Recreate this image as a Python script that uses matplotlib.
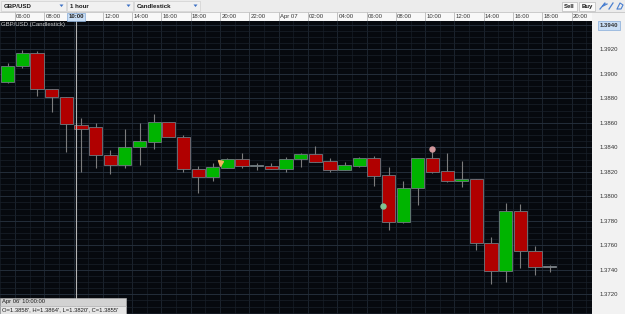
# GBP/USD 1 hour candlestick chart, dark trading-terminal style

import numpy as np
from matplotlib import pyplot as plt
from matplotlib.patches import Rectangle, Polygon

plt.rcParams['font.family'] = ['Liberation Sans', 'DejaVu Sans']

# hour index: hours since Apr 06 00:00
hours = list(range(5, 43))
opens = [1.38936, 1.39064, 1.39167, 1.38873, 1.38808, 1.38580, 1.38563, 1.38335,
         1.38253, 1.38405, 1.38447, 1.38604, 1.38487, 1.38220, 1.38160, 1.38233,
         1.38302, 1.38250, 1.38247, 1.38223, 1.38304, 1.38345, 1.38288, 1.38215,
         1.38250, 1.38310, 1.38174, 1.37793, 1.38065, 1.38310, 1.38204, 1.38127,
         1.38139, 1.37616, 1.37388, 1.37882, 1.37556, 1.37423]
highs = [1.39091, 1.39194, 1.39189, 1.38875, 1.38813, 1.38640, 1.38596, 1.38378,
         1.38549, 1.38596, 1.38672, 1.38606, 1.38503, 1.38249, 1.38274, 1.38315,
         1.38351, 1.38269, 1.38274, 1.38323, 1.38356, 1.38411, 1.38315, 1.38282,
         1.38323, 1.38329, 1.38237, 1.38125, 1.38310, 1.38382, 1.38351, 1.38288,
         1.38139, 1.37668, 1.37948, 1.37937, 1.37594, 1.37439]
lows = [1.38922, 1.39050, 1.38821, 1.38691, 1.38364, 1.38200, 1.38229, 1.38182,
        1.38229, 1.38256, 1.38389, 1.38480, 1.38201, 1.38025, 1.38127, 1.38229,
        1.38233, 1.38215, 1.38223, 1.38201, 1.38242, 1.38282, 1.38201, 1.38215,
        1.38242, 1.38087, 1.37725, 1.37782, 1.37929, 1.38188, 1.38119, 1.38078,
        1.37562, 1.37284, 1.37298, 1.37412, 1.37358, 1.37380]
closes = [1.39064, 1.39167, 1.38873, 1.38808, 1.38590, 1.38550, 1.38335, 1.38253,
          1.38405, 1.38449, 1.38604, 1.38487, 1.38219, 1.38160, 1.38237, 1.38304,
          1.38250, 1.38250, 1.38223, 1.38304, 1.38345, 1.38282, 1.38215, 1.38256,
          1.38310, 1.38168, 1.37793, 1.38065, 1.38310, 1.38202, 1.38125, 1.38139,
          1.37616, 1.37388, 1.37882, 1.37556, 1.37425, 1.37423]

# event markers on the chart
event_x = [19.97, 31.1, 34.45]
event_y = [1.38274, 1.37918, 1.38386]
event_marker = ['v', 'o', 'o']
event_color = ['#f3b45c', '#80c293', '#d3979c']

# time axis labels (every 2 hours)
tick_hours = list(range(6, 45, 2))
tick_labels = ['06:00', '08:00', '10:00', '12:00', '14:00', '16:00', '18:00',
               '20:00', '22:00', 'Apr 07', '02:00', '04:00', '06:00', '08:00',
               '10:00', '12:00', '14:00', '16:00', '18:00', '20:00']
price_ticks = [1.3720, 1.3740, 1.3760, 1.3780, 1.3800, 1.3820, 1.3840,
               1.3860, 1.3880, 1.3900, 1.3920, 1.3940]

cross_hour = 10.16
cross_idx = hours.index(10)

W, H = 625, 314
fig = plt.figure(figsize=(W / 100, H / 100), dpi=100, facecolor='#f2f2f2')

plot_top = 20.5
plot_right = 592
ax = fig.add_axes([0, 0, plot_right / W, (H - plot_top) / H])
ax.set_facecolor('#06090e')
ax.set_xlim(4.976, 45.39)
ax.set_ylim(1.37039, 1.39435)

# grid
for h in range(4, 47):
    ax.axvline(h, color='#1f2733' if h % 2 == 0 else '#141a23', lw=0.6, zorder=0)
for p in np.arange(1.3700, 1.3950, 0.0005):
    ax.axhline(p, color='#19202a', lw=0.5, zorder=0)
for p in np.arange(1.3700, 1.3950, 0.002):
    ax.axhline(p, color='#26303d', lw=0.6, zorder=0)

# candles
for h, o, hi, lo, c in zip(hours, opens, highs, lows, closes):
    x = h + 0.5
    if c > o:
        col = '#00b400'
    elif c < o:
        col = '#b00000'
    else:
        col = '#8e8e8e'
    if h == hours[-1]:
        col = '#f0c8c8'
    ax.vlines(x, lo, hi, color='#7c7c7c', lw=0.8, zorder=2)
    body = max(abs(c - o), 0.00009)
    ax.bar(x, body, bottom=min(o, c), width=0.9, color=col,
           edgecolor='#6f7a80', linewidth=0.6, zorder=3)

for ex, ey, m, col in zip(event_x, event_y, event_marker, event_color):
    ax.plot(ex, ey, marker=m, color=col, ms=3.6, mec=col, zorder=5)

# crosshair
ax.axvline(cross_hour, color='#b5b5b5', lw=0.8, zorder=4)

ax.text(0.002, 0.995, 'GBP/USD (Candlestick)', transform=ax.transAxes,
        ha='left', va='top', fontsize=4.3, color='#c9c9c9')

ax.set_xticks([])
ax.yaxis.tick_right()
ax.set_yticks(price_ticks)
ax.set_yticklabels(['%.4f' % p for p in price_ticks])
ax.tick_params(axis='y', length=0, pad=5.5, labelsize=4.3, labelcolor='#333333')
for lab in ax.get_yticklabels():
    if lab.get_text() == '1.3940':
        lab.set_fontweight('bold')
        lab.set_bbox(dict(facecolor='#c9def5', edgecolor='#86acd8', lw=0.5,
                          boxstyle='square,pad=0.35'))
for s in ax.spines.values():
    s.set_visible(False)

# time axis strip
ax_t = fig.add_axes([0, (H - plot_top) / H, plot_right / W, 8.5 / H])
ax_t.set_facecolor('#f8f8f8')
ax_t.set_xlim(ax.get_xlim())
ax_t.set_ylim(0, 1)
ax_t.set_xticks([])
ax_t.set_yticks([])
for s in ax_t.spines.values():
    s.set_visible(False)
for i, (h, lab) in enumerate(zip(tick_hours, tick_labels)):
    ax_t.axvline(h, color='#b8b8b8', lw=0.6)
    if i == 2:
        # the crosshair label covers this one
        continue
    ax_t.text(h + 0.08, 0.45, lab, ha='left', va='center', fontsize=4.3, color='#333333')
ax_t.text(tick_hours[2] - 0.35, 0.45, tick_labels[2], ha='left', va='center',
          fontsize=4.3, color='#222222', fontweight='bold',
          bbox=dict(facecolor='#c9def5', edgecolor='#86acd8', lw=0.5,
                    boxstyle='square,pad=0.25'))
ax_t.axvline(cross_hour, color='#9a9a9a', lw=0.8)

# overlay in pixel coordinates for the window chrome
ov = fig.add_axes([0, 0, 1, 1])
ov.set_xlim(0, W)
ov.set_ylim(H, 0)
ov.axis('off')
ov.add_patch(Rectangle((0, 0), W, 11.5, facecolor='#ececec', edgecolor='none'))
ov.plot([0, W], [11.5, 11.5], color='#c4c4c4', lw=0.6)
for x0, x1, txt in [(1, 66, 'GBP/USD'), (67, 133, '1 hour'), (134, 200, 'Candlestick')]:
    ov.add_patch(Rectangle((x0, 1), x1 - x0, 9.5, facecolor='#f1f1f1',
                           edgecolor='#d0d0d0', lw=0.5))
    ov.text(x0 + 2.5, 6, txt, ha='left', va='center', fontsize=4.4,
            fontweight='bold', color='#1a1a1a')
    ov.add_patch(Polygon([[x1 - 6.5, 4.5], [x1 - 2.5, 4.5], [x1 - 4.5, 7]],
                         closed=True, facecolor='#3a6fc4', edgecolor='none'))
for x0, x1, txt in [(562, 577, 'Sell'), (579, 595, 'Buy')]:
    ov.add_patch(Rectangle((x0, 1.5), x1 - x0, 9, facecolor='#fafafa',
                           edgecolor='#bcbcbc', lw=0.5))
    ov.text((x0 + x1) / 2, 6.2, txt, ha='center', va='center', fontsize=4.3,
            fontweight='bold', color='#1a1a1a')
ov.plot([600, 605, 603, 607], [9, 3, 6, 4], color='#4a7fd0', lw=0.9)
ov.plot([609, 613], [9, 3], color='#4a7fd0', lw=0.9)
ov.plot([617, 620, 623, 621, 618], [9, 3, 5, 9, 9], color='#4a7fd0', lw=0.8)

# info box for the candle under the crosshair
ov.add_patch(Rectangle((0, 297.5), 126, 8, facecolor='#d2d2d2', edgecolor='#bdbdbd', lw=0.4))
ov.add_patch(Rectangle((0, 305.5), 126, 8.5, facecolor='#e6e6e6', edgecolor='#bdbdbd', lw=0.4))
ov.text(2, 301.6, "Apr 06' 10:00:00", ha='left', va='center', fontsize=4.2, color='#1e1e1e')
info = "O=%.4f', H=%.4f', L=%.4f', C=%.4f'" % (opens[cross_idx], highs[cross_idx],
                                              lows[cross_idx], closes[cross_idx])
ov.text(2, 309.8, info, ha='left', va='center', fontsize=4.2, color='#1e1e1e')

fig.savefig('out.png', dpi=100, facecolor=fig.get_facecolor())
